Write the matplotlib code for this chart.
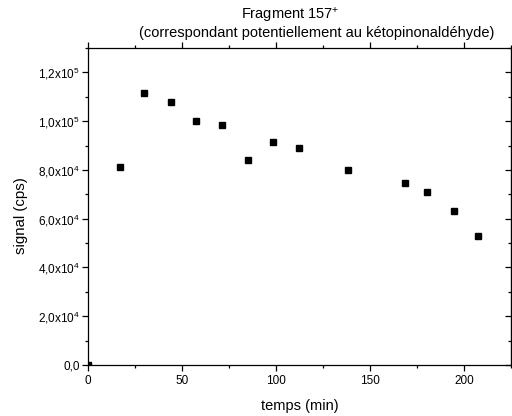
import matplotlib.pyplot as plt
from matplotlib.ticker import FuncFormatter, MultipleLocator

plt.rcParams['font.family'] = ['Liberation Sans', 'DejaVu Sans']
plt.rcParams['mathtext.default'] = 'regular'

# temps (min) et signal (cps)
temps = [0, 17, 29.6, 44.1, 57.6, 71.1, 84.9, 98.2, 112.1, 138.5, 168.4, 180.5, 194.5, 207.6]
signal = [0, 81100, 111400, 107900, 99900, 98400, 84100, 91300, 88900, 79900, 74700, 71000, 63300, 52700]


def fmt_y(v, pos):
    if v == 0:
        return '0,0'
    exp = 0
    m = v
    while m >= 10:
        m /= 10
        exp += 1
    return ('%.1f' % m).replace('.', ',') + 'x10$^{%d}$' % exp


fig = plt.figure(figsize=(5.12, 4.16), dpi=100)
ax = fig.add_axes([88 / 512, 51 / 416, 423 / 512, 317 / 416])

ax.plot(temps, signal, 's', color='black', markersize=5)

ax.set_xlim(0, 225)
ax.set_ylim(0, 130000)
ax.xaxis.set_major_locator(MultipleLocator(50))
ax.xaxis.set_minor_locator(MultipleLocator(25))
ax.yaxis.set_major_locator(MultipleLocator(20000))
ax.yaxis.set_minor_locator(MultipleLocator(10000))
ax.yaxis.set_major_formatter(FuncFormatter(fmt_y))

for s in ax.spines.values():
    s.set_linewidth(0.9)

ax.tick_params(axis='both', which='major', direction='out', length=4, width=0.9,
               labelsize=8.5, top=True, right=False)
ax.tick_params(axis='y', which='major', pad=2)
ax.tick_params(axis='both', which='minor', direction='out', length=2.5, width=0.9,
               top=True, right=False)
ax2 = ax.secondary_yaxis('right')
ax2.yaxis.set_major_locator(MultipleLocator(20000))
ax2.yaxis.set_minor_locator(MultipleLocator(10000))
ax2.tick_params(which='major', direction='in', length=4, width=0.9, labelright=False)
ax2.tick_params(which='minor', direction='in', length=2, width=0.9)

ax.set_xlabel('temps (min)', fontsize=10.5)
ax.set_ylabel('signal (cps)', fontsize=10.8)
ax.xaxis.set_label_coords(0.5, -0.107)
ax.yaxis.set_label_coords(-0.142, 0.47)

fig.text(290 / 512, 1 - 15 / 416, 'Fragment 157$^{+}$', ha='center', va='center', fontsize=10.5)
fig.text(317 / 512, 1 - 33 / 416, '(correspondant potentiellement au kétopinonaldéhyde)',
         ha='center', va='center', fontsize=10.5)

fig.savefig('out.png', dpi=100)
